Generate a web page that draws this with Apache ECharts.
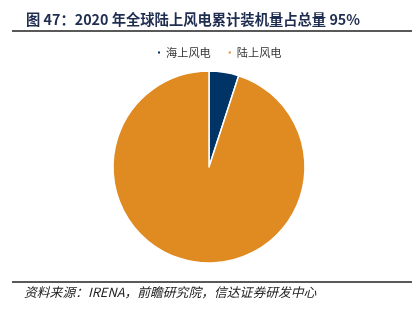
<!DOCTYPE html>
<html><head><meta charset="utf-8">
<script src="https://cdn.jsdelivr.net/npm/echarts@6/dist/echarts.min.js"></script>
<style>html,body{margin:0;padding:0;background:#fff}#c{width:418px;height:314px}</style>
</head><body><div id="c"></div>
<script>
const categories = ['海上风电', '陆上风电'];
const values = [5, 95];
const colors = ['#003366', '#E08A22'];

const chart = echarts.init(document.getElementById('c'), null, {renderer: 'canvas'});
chart.setOption({
  animation: false,
  title: {
    text: '图 47：2020 年全球陆上风电累计装机量占总量 95%',
    left: 21, top: 7,
    textStyle: {fontFamily: 'Noto Sans CJK SC', fontSize: 14.3, fontWeight: 'bold', color: '#1F2D50'}
  },
  legend: {
    data: categories,
    top: 42, left: 151,
    itemWidth: 4, itemHeight: 4, itemGap: 16,
    icon: 'rect',
    textStyle: {fontFamily: 'Noto Sans CJK SC', fontSize: 11.2, color: '#333'}
  },
  graphic: [
    {type: 'line', shape: {x1: 12, y1: 31, x2: 412, y2: 31}, style: {stroke: '#222', lineWidth: 1.5}},
    {type: 'line', shape: {x1: 12, y1: 282, x2: 412, y2: 282}, style: {stroke: '#222', lineWidth: 1.5}},
    {type: 'text', left: 24, top: 286, style: {text: '资料来源：IRENA，前瞻研究院，信达证券研发中心', font: 'italic 12.8px "Noto Sans CJK SC"', fill: '#222'}}
  ],
  series: [{
    type: 'pie',
    center: [209, 167],
    radius: 96,
    startAngle: 90,
    clockwise: true,
    label: {show: false},
    labelLine: {show: false},
    itemStyle: {borderColor: '#fff', borderWidth: 1.5},
    data: categories.map((n, i) => ({name: n, value: values[i], itemStyle: {color: colors[i]}}))
  }]
});
</script></body></html>
